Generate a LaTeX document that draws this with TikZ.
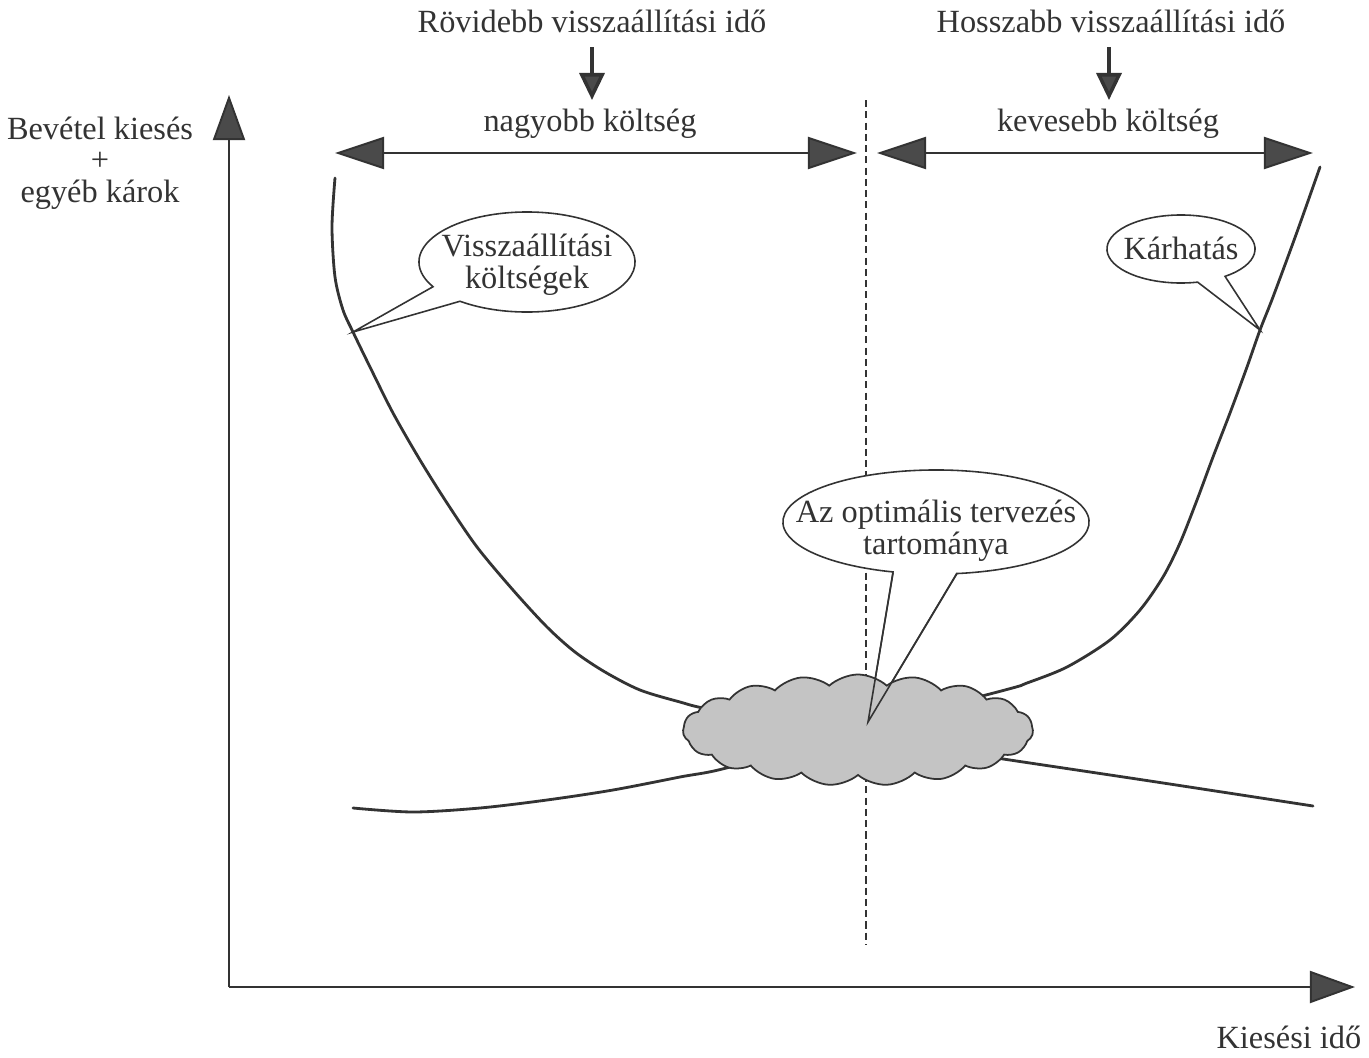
\documentclass[tikz,border=0pt]{standalone}
\usepackage{fontspec}
\setmainfont{Liberation Serif}
\usetikzlibrary{arrows.meta,shapes.symbols}
\definecolor{ink}{HTML}{333333}
\definecolor{headfill}{HTML}{4A4A4A}
\definecolor{cloudfill}{HTML}{C4C4C4}
\tikzset{
  lbl/.style={font=\fontsize{9.2pt}{9.2pt}\selectfont, text=ink, inner sep=0pt},
  curve/.style={draw=ink, line width=0.8pt, line join=round, line cap=round},
  axisarrow/.style={draw=ink, line width=0.55pt, -{Triangle[length=0.45cm,width=0.32cm,fill=headfill]}},
  spanarrow/.style={draw=ink, line width=0.55pt, {Triangle[length=0.49cm,width=0.32cm,fill=headfill]}-{Triangle[length=0.49cm,width=0.32cm,fill=headfill]}},
  downarrow/.style={draw=ink, line width=1pt, -{Triangle[length=0.27cm,width=0.25cm,fill=headfill]}},
  bubble/.style={draw=ink, line width=0.45pt, fill=white, line join=miter},
  divider/.style={draw=ink, line width=0.45pt, dash pattern=on 2pt off 1.2pt},
}
\begin{document}
\begin{tikzpicture}[x=0.01cm,y=-0.01cm]
\path[use as bounding box, fill=white] (0,0) rectangle (1369,1057);

% coordinates
\coordinate (O) at (229,987);
\coordinate (ytip) at (229,95);
\coordinate (xtip) at (1355,987);
\coordinate (L1) at (335,153);
\coordinate (L2) at (857,153);
\coordinate (R1) at (877,153);
\coordinate (R2) at (1313,153);
\coordinate (dA1) at (592,47);
\coordinate (dA2) at (592,100);
\coordinate (dB1) at (1109,47);
\coordinate (dB2) at (1109,100);
\coordinate (dv1) at (866,100);
\coordinate (dv2) at (866,945);

% texts
\node[lbl, anchor=base] (t1) at (592,32) {Rövidebb visszaállítási idő};
\node[lbl, anchor=base] (t2) at (1111,32) {Hosszabb visszaállítási idő};
\node[lbl, anchor=base] (t3) at (590,131) {nagyobb költség};
\node[lbl, anchor=base] (t4) at (1108,131) {kevesebb költség};
\node[lbl, anchor=base] (y1) at (100,139) {Bevétel kiesés};
\node[lbl, anchor=base] (y2) at (100,170) {+};
\node[lbl, anchor=base] (y3) at (100,202) {egyéb károk};
\node[lbl, anchor=base east] (xl) at (1362,1048) {Kiesési idő};

% divider
\draw[divider] (dv1) -- (dv2);

% axes and arrows
\draw[axisarrow] (O) -- (ytip);
\draw[axisarrow] (O) -- (xtip);
\draw[spanarrow] (L1) -- (L2);
\draw[spanarrow] (R1) -- (R2);
\draw[downarrow] (dA1) -- (dA2);
\draw[downarrow] (dB1) -- (dB2);

% curves
\draw[curve] plot[smooth, tension=0.5] coordinates {(335,178) (332,227) (335,277) (343,310) (353,332) (370,367) (393,413) (420,460) (447,503) (477,547) (513,590) (547,627) (575,652) (605,672) (640,690) (680,702) (713,710) (860,737) (990,757) (1150,781) (1313,806)};
\draw[curve] plot[smooth, tension=0.5] coordinates {(353,808) (413,812) (480,808) (547,800) (613,790) (680,777) (730,767) (860,728) (1005,690) (1027,683) (1067,667) (1110,640) (1140,610) (1163,577) (1180,543) (1197,500) (1213,457) (1230,413) (1247,367) (1260,330) (1273,297) (1297,232) (1320,167)};

% callout 1
\coordinate (c1tip) at (353,332);
\draw[bubble] (527,262) ++(231.7:1.08cm and 0.5cm) arc[start angle=231.7, end angle=569.6, x radius=1.08cm, y radius=0.5cm] -- (c1tip) -- cycle;
\node[lbl, align=center] (c1) at (527,265) {Visszaállítási\\költségek};

% callout 2
\coordinate (c2tip) at (1260,330);
\draw[bubble] (1181,249) ++(306.5:0.74cm and 0.34cm) arc[start angle=306.5, end angle=643, x radius=0.74cm, y radius=0.34cm] -- (c2tip) -- cycle;
\node[lbl, anchor=base] (c2) at (1181,259) {Kárhatás};

% callout 3
\coordinate (c3tip) at (868,722);
\coordinate (c3a) at (893,573);
\coordinate (c3b) at (957,573);
\draw[bubble] (936,522) ++(277.9:1.53cm and 0.52cm) arc[start angle=277.9, end angle=613.7, x radius=1.53cm, y radius=0.52cm] -- (c3tip) -- cycle;
\node[lbl, align=center] (c3) at (936,531) {Az optimális tervezés\\tartománya};

% cloud
\node[cloud, draw=ink, line width=0.5pt, fill=cloudfill, cloud puffs=19, cloud puff arc=85, aspect=3.15, minimum width=3.5cm, minimum height=1.11cm, inner sep=0pt] (cloud) at (858,730) {};
\draw[ink, line width=0.45pt] (c3a) -- (c3tip) -- (c3b);
\end{tikzpicture}
\end{document}
